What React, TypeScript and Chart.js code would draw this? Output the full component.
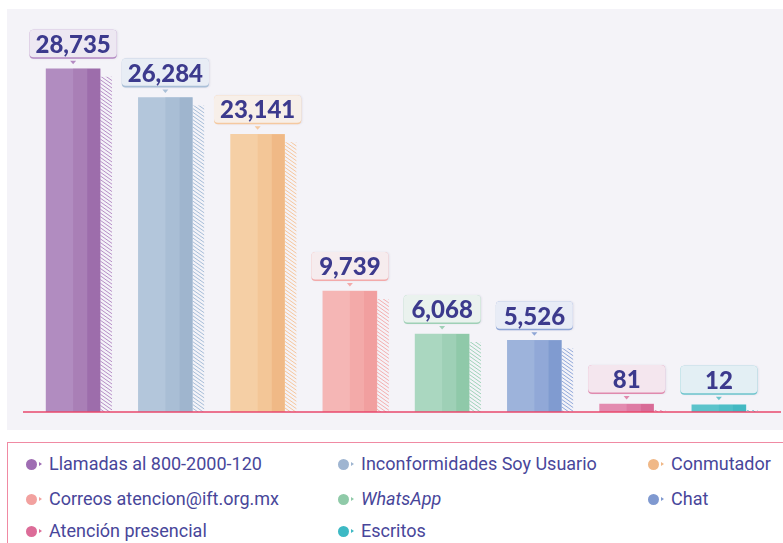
import React, { useEffect, useRef } from 'react';
import { Chart, registerables } from 'chart.js';

Chart.register(...registerables);

const categories = [
  'Llamadas al 800-2000-120',
  'Inconformidades Soy Usuario',
  'Conmutador',
  'Correos atencion@ift.org.mx',
  'WhatsApp',
  'Chat',
  'Atención presencial',
  'Escritos',
];
const values = [28735, 26284, 23141, 9739, 6068, 5526, 81, 12];

const leftColors = ['#b18cc0', '#b3c6db', '#f5cfa5', '#f5b6b5', '#aad7c0', '#9db3db', '#e38bb0', '#5cc3cb'];
const midColors = ['#a97fb6', '#a9bed5', '#f3c697', '#f3aaa9', '#9ed0b6', '#91a8d7', '#de7ba4', '#4fbec7'];
const rightColors = ['#9d6dab', '#9fb5ce', '#f0b986', '#f19f9f', '#8fc9a9', '#809bd0', '#d86b97', '#43b8c2'];
const hatchColors = ['#b68ec6', '#a6bdd8', '#f6c69c', '#f4aeae', '#9fd3b9', '#90a8da', '#e389b0', '#5cc3cb'];
const boxFills = ['#ede8f2', '#e8edf5', '#f7efe9', '#f6ecee', '#eaf2ee', '#e8ecf6', '#f4e6ee', '#e3eff4'];
const boxBorders = ['#b48ac3', '#a9bfd7', '#f5c9a0', '#f3aaaa', '#9fd0b6', '#8fa6d6', '#e08aae', '#6cc5cd'];
const dotColors = ['#9f6db3', '#9fb5d1', '#f0b887', '#f2a19f', '#8fcaa8', '#7f99d0', '#dc6c98', '#3db9c4'];

const Y_MIN = -600;
const Y_MAX = 30000;

const legendCols = [31, 343, 653];
const legendRows = [464, 499, 531];

function roundRect(ctx: CanvasRenderingContext2D, x: number, y: number, w: number, h: number, r: number) {
  ctx.beginPath();
  ctx.moveTo(x + r, y);
  ctx.lineTo(x + w - r, y);
  ctx.quadraticCurveTo(x + w, y, x + w, y + r);
  ctx.lineTo(x + w, y + h - r);
  ctx.quadraticCurveTo(x + w, y + h, x + w - r, y + h);
  ctx.lineTo(x + r, y + h);
  ctx.quadraticCurveTo(x, y + h, x, y + h - r);
  ctx.lineTo(x, y + r);
  ctx.quadraticCurveTo(x, y, x + r, y);
  ctx.closePath();
}

const decorPlugin = {
  id: 'decor',
  beforeDatasetsDraw(chart: any) {
    const ctx: CanvasRenderingContext2D = chart.ctx;
    const meta = chart.getDatasetMeta(0);
    meta.data.forEach((bar: any, i: number) => {
      const { x, y, base, width } = bar.getProps(['x', 'y', 'base', 'width'], true);
      const right = x + width / 2;
      const top = Math.min(y + 8, base - 2);
      const h = base - top;
      if (h <= 0) return;
      ctx.save();
      ctx.beginPath();
      ctx.rect(right, top, 12, h);
      ctx.clip();
      ctx.strokeStyle = hatchColors[i];
      ctx.lineWidth = 1;
      ctx.beginPath();
      for (let yy = top - 12; yy < base + 2; yy += 3.7) {
        ctx.moveTo(right, yy);
        ctx.lineTo(right + 12, yy + 8.5);
      }
      ctx.stroke();
      ctx.restore();
    });
  },
  afterDatasetsDraw(chart: any) {
    const ctx: CanvasRenderingContext2D = chart.ctx;
    const meta = chart.getDatasetMeta(0);
    const area = chart.chartArea;
    meta.data.forEach((bar: any, i: number) => {
      const { x, y, base, width } = bar.getProps(['x', 'y', 'base', 'width'], true);
      const left = x - width / 2;
      ctx.fillStyle = midColors[i];
      ctx.fillRect(left + width * 0.5, y, width * 0.26, base - y);
      ctx.fillStyle = rightColors[i];
      ctx.fillRect(left + width * 0.76, y, width * 0.24, base - y);
    });
    // baseline
    ctx.save();
    ctx.strokeStyle = '#e8476c';
    ctx.lineWidth = 1.5;
    ctx.beginPath();
    ctx.moveTo(area.left - 4, area.bottom);
    ctx.lineTo(chart.width - 2, area.bottom);
    ctx.stroke();
    ctx.restore();
    // value labels
    meta.data.forEach((bar: any, i: number) => {
      const { x, y } = bar.getProps(['x', 'y'], true);
      const text = values[i].toLocaleString('en-US');
      ctx.save();
      ctx.font = '900 24px Lato';
      const tw = ctx.measureText(text).width;
      const bw = Math.max(tw + 12, 77);
      const bh = 29;
      const bx = x - bw / 2;
      const by = y - 10 - bh;
      ctx.shadowColor = 'rgba(60,50,110,0.10)';
      ctx.shadowBlur = 2;
      ctx.shadowOffsetX = 1;
      ctx.shadowOffsetY = 0;
      ctx.fillStyle = boxBorders[i];
      roundRect(ctx, bx, by, bw, bh, 4);
      ctx.fill();
      ctx.shadowColor = 'transparent';
      ctx.fillStyle = boxFills[i];
      roundRect(ctx, bx, by, bw, bh - 1.6, 4);
      ctx.fill();
      // pointer
      ctx.fillStyle = boxBorders[i];
      ctx.beginPath();
      ctx.moveTo(x - 3, y - 8);
      ctx.lineTo(x + 3, y - 8);
      ctx.lineTo(x, y - 4.5);
      ctx.closePath();
      ctx.fill();
      ctx.fillStyle = '#3c3a8d';
      ctx.textAlign = 'center';
      ctx.textBaseline = 'middle';
      ctx.fillText(text, x, by + bh / 2 + 1);
      ctx.restore();
    });
  },
};

export default function App() {
  const canvasRef = useRef<HTMLCanvasElement | null>(null);

  useEffect(() => {
    if (!canvasRef.current) return;
    const chart = new Chart(canvasRef.current, {
      type: 'bar',
      data: {
        labels: categories,
        datasets: [
          {
            data: values,
            backgroundColor: leftColors,
            borderWidth: 0,
            base: Y_MIN,
            barThickness: 54,
          } as any,
        ],
      },
      options: {
        animation: false,
        responsive: false,
        maintainAspectRatio: false,
        layout: { padding: { left: 20, right: 18, top: 45, bottom: 18 } },
        scales: {
          x: { display: false },
          y: { display: false, min: Y_MIN, max: Y_MAX },
        },
        plugins: {
          legend: { display: false },
          tooltip: { enabled: false },
        },
      },
      plugins: [decorPlugin],
    });
    return () => chart.destroy();
  }, []);

  return (
    <div
      style={{
        position: 'fixed',
        left: 0,
        top: 0,
        width: 783,
        height: 543,
        background: '#ffffff',
        overflow: 'hidden',
      }}
    >
      <div
        style={{
          position: 'absolute',
          left: 7,
          top: 9,
          width: 776,
          height: 421,
          background: '#f4f3f8',
        }}
      />
      <canvas
        ref={canvasRef}
        width={776}
        height={421}
        style={{ position: 'absolute', left: 7, top: 9, width: 776, height: 421 }}
      />
      <div
        style={{
          position: 'absolute',
          left: 7,
          top: 442,
          width: 790,
          height: 130,
          border: '1px solid #f08aa3',
          boxSizing: 'border-box',
        }}
      />
      {categories.map((c, i) => {
        const cx = legendCols[i % 3];
        const cy = legendRows[Math.floor(i / 3)];
        return (
          <React.Fragment key={c}>
            <div
              style={{
                position: 'absolute',
                left: cx - 5.5,
                top: cy - 5.5,
                width: 11,
                height: 11,
                borderRadius: '50%',
                background: dotColors[i],
              }}
            />
            <div
              style={{
                position: 'absolute',
                left: cx + 8,
                top: cy - 2.5,
                width: 0,
                height: 0,
                borderTop: '2.5px solid transparent',
                borderBottom: '2.5px solid transparent',
                borderLeft: `3px solid ${dotColors[i]}`,
              }}
            />
            <div
              style={{
                position: 'absolute',
                left: cx + 18,
                top: cy - 10,
                height: 20,
                lineHeight: '20px',
                fontFamily: 'Roboto, sans-serif',
                fontSize: 18,
                color: '#48469a',
                whiteSpace: 'nowrap',
                fontStyle: c === 'WhatsApp' ? 'italic' : 'normal',
              }}
            >
              {c}
            </div>
          </React.Fragment>
        );
      })}
    </div>
  );
}
